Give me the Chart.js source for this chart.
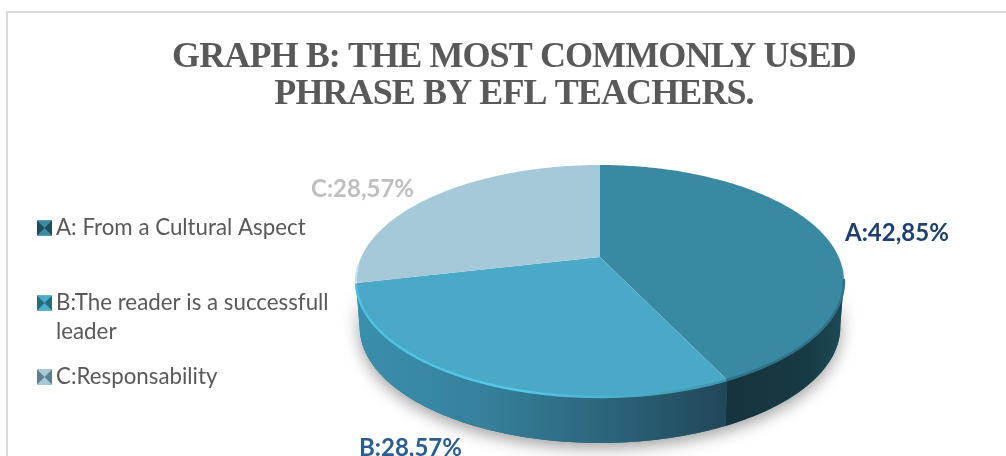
<!DOCTYPE html>
<html><head><meta charset="utf-8">
<style>
html,body{margin:0;padding:0;background:#fff;width:1006px;height:456px;overflow:hidden}
#frame{position:absolute;left:6px;top:11px;width:1000px;height:445px;border-left:2px solid #d9d9d9;border-top:2px solid #d9d9d9;overflow:hidden}
canvas{display:block}
</style>
<script src="https://cdn.jsdelivr.net/npm/chart.js@4"></script>
</head><body>
<div id="frame"><canvas id="c" width="1012" height="443"></canvas></div>
<script>
const titleLines = ['GRAPH B: THE MOST COMMONLY USED', 'PHRASE BY EFL TEACHERS.'];
const categories = ['A: From a Cultural Aspect', ['B:The reader is a successfull', 'leader'], 'C:Responsability'];
const letters = ['A', 'B', 'C'];
const values = [42.85, 28.57, 28.57];
const topColors = ['#3a89a3', '#49a9c6', '#a5c9d9'];
const labelColors = ['#1f3f6e', '#2b5c92', '#bfbfbf'];
const markerDark = ['#1e4c5b', '#27697f', '#5c7f8c'];
const markerLight = ['#3d8ca6', '#4badca', '#a5c9d9'];

// view geometry of the tilted pie (canvas px)
const CX = 592, CY = 244, RX = 238.7, RY = 111, PERSP = 0.2069, DEPTH = 46;
const project = (ang) => {           // ang: Chart.js arc angle
  const u = Math.cos(ang), v = Math.sin(ang), w = 1 - PERSP * v;
  return [CX + RX * u / w, CY + RY * v / w];
};
const lower = (p) => [CX + (p[0] - CX) * 0.985, p[1] + DEPTH];
const rimPts = (a0, a1) => {
  const n = Math.max(2, Math.ceil(Math.abs(a1 - a0) * 60)), pts = [];
  for (let i = 0; i <= n; i++) pts.push(project(a0 + (a1 - a0) * i / n));
  return pts;
};
function trace(ctx, pts, move = true) {
  pts.forEach((p, i) => (i === 0 && move) ? ctx.moveTo(p[0], p[1]) : ctx.lineTo(p[0], p[1]));
}
function sidePath(ctx, a0, a1) {
  const r = rimPts(a0, a1);
  ctx.beginPath(); trace(ctx, r); trace(ctx, r.slice().reverse().map(lower), false); ctx.closePath();
}

const pie3d = {
  id: 'pie3d',
  beforeDraw(chart) { chart.ctx.letterSpacing = '-0.9px'; },
  beforeDatasetDraw(chart) {
    const ctx = chart.ctx, arcs = chart.getDatasetMeta(0).data;
    ctx.letterSpacing = '0px';
    const [A, B, C] = arcs;
    const right = 0.2;   // silhouette angle on the right
    const left = B.endAngle;

    // soft shadow under the body
    ctx.save();
    ctx.shadowColor = 'rgba(0,0,0,0.38)'; ctx.shadowBlur = 16; ctx.shadowOffsetY = 5;
    ctx.fillStyle = '#2c6478';
    sidePath(ctx, right, left); ctx.fill();
    ctx.restore();

    // side walls
    const gA = ctx.createLinearGradient(715, 0, 835, 0);
    gA.addColorStop(0, '#15333c'); gA.addColorStop(0.7, '#183a44'); gA.addColorStop(1, '#1c4a57');
    sidePath(ctx, right, A.endAngle); ctx.fillStyle = gA; ctx.fill();
    const gB = ctx.createLinearGradient(348, 0, 715, 0);
    gB.addColorStop(0, '#3a8fae'); gB.addColorStop(0.35, '#36809b'); gB.addColorStop(0.7, '#2b6379'); gB.addColorStop(1, '#22475a');
    sidePath(ctx, A.endAngle, left); ctx.fillStyle = gB; ctx.fill();

    // top faces, using the angles computed by the library
    arcs.forEach((arc, i) => {
      ctx.beginPath(); ctx.moveTo(CX, CY);
      trace(ctx, rimPts(arc.startAngle, arc.endAngle), false);
      ctx.closePath(); ctx.fillStyle = topColors[i]; ctx.fill();
    });

    // bevel along the rim
    ctx.save(); ctx.lineJoin = 'round'; ctx.lineCap = 'round';
    const stroke = (a0, a1, style, w) => { ctx.beginPath(); trace(ctx, rimPts(a0, a1)); ctx.strokeStyle = style; ctx.lineWidth = w; ctx.stroke(); };
    const hB = ctx.createLinearGradient(348, 0, 715, 0);
    hB.addColorStop(0, '#4cc0e0'); hB.addColorStop(0.45, '#55c8e8'); hB.addColorStop(1, '#3f96b0');
    stroke(A.endAngle, B.endAngle, hB, 2.5);
    stroke(right, A.endAngle, '#2f7288', 2.5);
    stroke(C.startAngle, C.startAngle + 0.14, '#c2e2ee', 2);
    ctx.restore();
    return false;
  },
  afterDraw(chart) {
    const ctx = chart.ctx;
    ctx.save();
    ctx.letterSpacing = '0px';
    // slice value labels
    const spots = [[837, 220], [351, 435], [303, 176]];
    ctx.font = 'bold 24px Lato'; ctx.textBaseline = 'middle'; ctx.textAlign = 'left';
    values.forEach((v, i) => {
      ctx.fillStyle = labelColors[i];
      ctx.fillText(letters[i] + ':' + v.toFixed(2).replace('.', ',') + '%', spots[i][0], spots[i][1]);
    });
    // legend
    const rows = [215, 290, 364];
    categories.forEach((cat, i) => {
      const y = rows[i], x = 29, s = 15, t = y - 7.5;
      const tri = (pts, col) => { ctx.beginPath(); trace(ctx, pts); ctx.closePath(); ctx.fillStyle = col; ctx.fill(); };
      const m = [x + s / 2, t + s / 2];
      ctx.fillStyle = markerDark[i]; ctx.fillRect(x, t, s, s);
      tri([[x, t], [x + s, t], m], markerLight[i]);
      tri([[x, t + s], [x + s, t + s], m], markerLight[i]);
      ctx.font = '22.3px Lato'; ctx.fillStyle = '#595959';
      [].concat(cat).forEach((line, k) => ctx.fillText(line, 48, y + k * 29));
    });
    ctx.restore();
  }
};

new Chart(document.getElementById('c'), {
  type: 'pie',
  data: { labels: categories, datasets: [{ data: values, backgroundColor: topColors, borderWidth: 0 }] },
  options: {
    responsive: false, animation: false,
    rotation: 0,
    layout: { padding: 0 },
    plugins: {
      legend: { display: false },
      tooltip: { enabled: false },
      title: {
        display: true, text: titleLines, color: '#595959',
        font: { family: '"Liberation Serif"', weight: 'bold', size: 36, lineHeight: 1.03 },
        padding: { top: 26, bottom: 10 }
      }
    }
  },
  plugins: [pie3d]
});
</script>
</body></html>
